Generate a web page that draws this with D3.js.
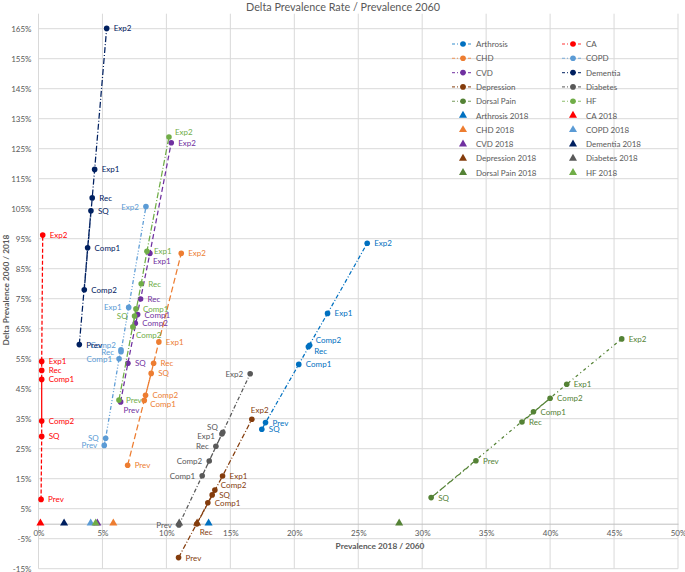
<!DOCTYPE html>
<html>
<head>
<meta charset="utf-8">
<script src="https://cdn.jsdelivr.net/npm/d3@7"></script>
<style>
  body { margin: 0; background: #fff; }
  svg { font-family: Lato, "Liberation Sans", sans-serif; }
</style>
</head>
<body>
<script>
'use strict';

// scenario order in every series (also the order the lines are drawn)
const scenarios = ["Prev", "SQ", "Comp1", "Comp2", "Rec", "Exp1", "Exp2"];
const diseases = ["Arthrosis", "CA", "CHD", "COPD", "CVD", "Dementia", "Depression", "Diabetes", "Dorsal Pain", "HF"];

// prevalence 2060 (x, %) and delta prevalence 2060/2018 (y, %) per disease
const arthrosisX = [17.75, 17.46, 20.35, 21.2, 21.1, 22.6, 25.7];
const arthrosisY = [33.7, 31.5, 53.1, 59.5, 59.0, 70.1, 93.5];
const caX = [0.2, 0.25, 0.25, 0.25, 0.25, 0.25, 0.33];
const caY = [8.1, 29.1, 48.1, 34.2, 51.1, 54.1, 96.2];
const chdX = [6.97, 8.81, 8.27, 8.37, 9.0, 9.41, 11.16];
const chdY = [19.5, 50.1, 41.1, 42.8, 53.5, 60.6, 90.1];
const copdX = [5.14, 5.25, 6.3, 6.45, 6.45, 7.05, 8.4];
const copdY = [26.1, 28.5, 55.0, 58.0, 57.3, 72.1, 105.7];
const cvdX = [6.42, 6.99, 7.75, 7.57, 7.98, 8.71, 10.38];
const cvdY = [40.6, 53.5, 69.7, 66.8, 74.9, 90.1, 127.0];
const dementiaX = [3.19, 4.1, 3.84, 3.58, 4.2, 4.39, 5.33];
const dementiaY = [59.7, 104.3, 92.0, 78.0, 108.6, 118.1, 165.1];
const depressionX = [10.95, 13.58, 13.24, 13.79, 12.38, 14.39, 16.68];
const depressionY = [-11.3, 9.6, 7.0, 11.2, -0.1, 15.9, 34.8];
const diabetesX = [10.98, 14.41, 12.8, 13.35, 13.87, 14.34, 16.55];
const diabetesY = [-0.4, 30.5, 16.0, 20.9, 25.8, 29.9, 50.0];
const dorsalX = [34.2, 30.7, 38.7, 40.0, 37.8, 41.3, 45.6];
const dorsalY = [21.0, 8.7, 37.3, 41.8, 33.9, 46.5, 61.6];
const hfX = [6.29, 7.51, 7.62, 7.38, 8.03, 8.48, 10.2];
const hfY = [41.2, 69.2, 71.6, 65.6, 80.0, 90.8, 128.9];

// 2018 prevalence (delta = 0), same order as diseases
const prevalence2018 = [13.3, 0.15, 5.85, 4.08, 4.6, 2.0, 12.4, 11.0, 28.2, 4.47];

// axis ticks
const xTicks = [0, 5, 10, 15, 20, 25, 30, 35, 40, 45, 50];
const yTicks = [-15, -5, 5, 15, 25, 35, 45, 55, 65, 75, 85, 95, 105, 115, 125, 135, 145, 155, 165];

// styling (kept apart from the values)
const colors = ["#0070C0", "#FF0000", "#ED7D31", "#5B9BD5", "#7030A0", "#002060", "#843C0C", "#595959", "#548235", "#70AD47"];
const dashes = ["4,2,1,2", "4,2", "6,3", "4,2,1,2,1,2", "5,3", "6,2,1,2", "5,2,1,2", "4,2,1,2", "3,3,1,3", "6,2,1,2"];
// label placement per point: r right, l left, rb below right, ra above, ru/rd right up/down, lu/ld left up/down
const labelSide = [
  ["r", "r", "r", "ru", "rd", "r", "r"],
  ["r", "r", "r", "r", "r", "r", "r"],
  ["r", "r", "rd", "r", "r", "r", "r"],
  ["l", "l", "l", "lu", "l", "l", "l"],
  ["rb", "r", "r", "r", "r", "rb", "r"],
  ["r", "r", "r", "r", "r", "r", "r"],
  ["r", "r", "r", "ru", "rb", "r", "ra"],
  ["l", "lu", "l", "l", "l", "ld", "l"],
  ["r", "r", "r", "r", "r", "r", "r"],
  ["r", "l", "r", "rb", "r", "r", "ru"]
];
const sideOffset = {
  r: [7, 3, "start"], l: [-7, 3, "end"], rb: [3, 11, "start"], ra: [-1, -6, "start"],
  ru: [6, -2, "start"], rd: [6, 7, "start"], lu: [-5, -2, "end"], ld: [-7, 5, "end"]
};

const xs = [arthrosisX, caX, chdX, copdX, cvdX, dementiaX, depressionX, diabetesX, dorsalX, hfX];
const ys = [arthrosisY, caY, chdY, copdY, cvdY, dementiaY, depressionY, diabetesY, dorsalY, hfY];

const width = 685, height = 572;
const svg = d3.select("body").append("svg")
  .attr("width", width)
  .attr("height", height);

const x = d3.scaleLinear().domain([0, 50]).range([38.5, 678]);
const y = d3.scaleLinear().domain([-15, 170]).range([568.7, 13.7]);

// gridlines
svg.append("g").selectAll("line").data(xTicks).enter().append("line")
  .attr("x1", d => x(d)).attr("x2", d => x(d))
  .attr("y1", y(170)).attr("y2", y(-15))
  .attr("stroke", "#d9d9d9").attr("stroke-width", 1);
svg.append("g").selectAll("line").data(yTicks).enter().append("line")
  .attr("x1", x(0)).attr("x2", x(50))
  .attr("y1", d => y(d)).attr("y2", d => y(d))
  .attr("stroke", "#d9d9d9").attr("stroke-width", 1);

// horizontal axis at 0
const xAxis = svg.append("g")
  .attr("transform", "translate(0," + y(0) + ")")
  .call(d3.axisBottom(x).tickValues(xTicks).tickFormat(d => d + "%").tickSize(0).tickPadding(7));
xAxis.select(".domain").attr("stroke", "#bfbfbf");
xAxis.selectAll("text").attr("fill", "#595959").style("font-size", "8px").style("font-family", "Lato, sans-serif");

const yAxis = svg.append("g")
  .attr("transform", "translate(" + x(0) + ",0)")
  .call(d3.axisLeft(y).tickValues(yTicks).tickFormat(d => d + "%").tickSize(0).tickPadding(7));
yAxis.select(".domain").remove();
yAxis.selectAll("text").attr("fill", "#595959").style("font-size", "8px").style("font-family", "Lato, sans-serif");

// titles
svg.append("text")
  .attr("x", 343).attr("y", 11)
  .attr("text-anchor", "middle")
  .attr("fill", "#595959")
  .style("font-size", "10.8px")
  .text("Delta Prevalence Rate / Prevalence 2060");

svg.append("text")
  .attr("x", 380).attr("y", 549)
  .attr("text-anchor", "middle")
  .attr("fill", "#595959")
  .style("font-size", "8.3px").style("font-weight", "bold")
  .text("Prevalence 2018 / 2060");

svg.append("text")
  .attr("transform", "translate(9,290)rotate(-90)")
  .attr("text-anchor", "middle")
  .attr("fill", "#595959")
  .style("font-size", "8.3px").style("font-weight", "bold")
  .text("Delta Prevalence 2060 / 2018");

// series lines and points
const line = d3.line().x(d => x(d[0])).y(d => y(d[1]));

diseases.forEach((name, i) => {
  const pts = scenarios.map((s, j) => [xs[i][j], ys[i][j], s, labelSide[i][j]]);
  const g = svg.append("g");
  g.append("path")
    .datum(pts)
    .attr("d", line)
    .attr("fill", "none")
    .attr("stroke", colors[i])
    .attr("stroke-width", 1.25)
    .attr("stroke-dasharray", dashes[i]);
  g.selectAll("circle").data(pts).enter().append("circle")
    .attr("cx", d => x(d[0])).attr("cy", d => y(d[1]))
    .attr("r", 2.8)
    .attr("fill", colors[i]);
  g.selectAll("text").data(pts).enter().append("text")
    .attr("x", d => x(d[0]) + sideOffset[d[3]][0])
    .attr("y", d => y(d[1]) + sideOffset[d[3]][1])
    .attr("text-anchor", d => sideOffset[d[3]][2])
    .attr("fill", colors[i])
    .style("font-size", "8px")
    .text(d => d[2]);
});

// 2018 triangles on the zero line
const tri = d3.symbol().type(d3.symbolTriangle).size(28);
svg.append("g").selectAll("path").data(prevalence2018).enter().append("path")
  .attr("d", tri)
  .attr("transform", d => "translate(" + x(d) + "," + (y(0) - 0.5) + ")")
  .attr("fill", (d, i) => colors[i]);

// legend
const legend = svg.append("g");
const rowY = r => 44 + r * 14.3;
diseases.forEach((name, i) => {
  const col = i % 2, row = Math.floor(i / 2);
  const lx = col === 0 ? 452 : 562;
  legend.append("line")
    .attr("x1", lx).attr("x2", lx + 21)
    .attr("y1", rowY(row)).attr("y2", rowY(row))
    .attr("stroke", colors[i]).attr("stroke-width", 1.1)
    .attr("stroke-opacity", 0.8)
    .attr("stroke-dasharray", "3,2,1,2");
  legend.append("circle")
    .attr("cx", lx + 11).attr("cy", rowY(row)).attr("r", 2.8)
    .attr("fill", colors[i]);
  legend.append("text")
    .attr("x", lx + 24).attr("y", rowY(row) + 3)
    .attr("fill", "#595959").style("font-size", "8px")
    .text(name);

  legend.append("path")
    .attr("d", tri)
    .attr("transform", "translate(" + (lx + 11) + "," + rowY(row + 5) + ")")
    .attr("fill", colors[i]);
  legend.append("text")
    .attr("x", lx + 24).attr("y", rowY(row + 5) + 3)
    .attr("fill", "#595959").style("font-size", "8px")
    .text(name + " 2018");
});
</script>
</body>
</html>
